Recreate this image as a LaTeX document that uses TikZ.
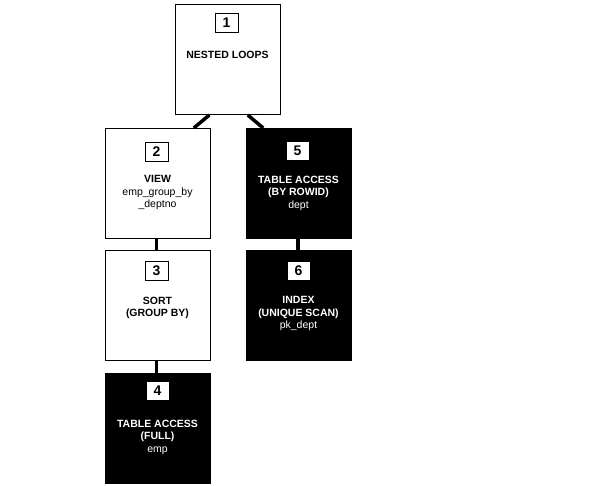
\documentclass[tikz,border=0pt]{standalone}
\usepackage{fontspec}
\setmainfont{Liberation Sans}
\usetikzlibrary{calc}
\begin{document}
\begin{tikzpicture}[x=1pt,y=-1pt,
  opbox/.style={draw=black, line width=1pt, minimum width=105pt, minimum height=110pt, anchor=north west, inner sep=0pt},
  lightop/.style={opbox, fill=white},
  darkop/.style={opbox, fill=black},
  numbox/.style={draw=black, line width=0.8pt, fill=white, minimum width=23pt, minimum height=19pt, inner sep=0pt, font=\bfseries\fontsize{14}{14}\selectfont},
  lbl/.style={align=center, inner sep=0pt, anchor=north, font=\fontsize{10.5}{12.5}\selectfont},
  lightlbl/.style={lbl, text=black},
  darklbl/.style={lbl, text=white},
  link/.style={line width=3.5pt, draw=black}
]
\useasboundingbox (0,0) rectangle (600,486);
% operation boxes
\node[lightop] (b1) at (175,4) {};
\node[lightop] (b2) at (105,128) {};
\node[lightop] (b3) at (105,250) {};
\node[darkop]  (b4) at (105,373) {};
\node[darkop]  (b5) at (246,128) {};
\node[darkop]  (b6) at (246,250) {};
% connectors
\coordinate (c1a) at ($(b1.south west)!0.324!(b1.south east)$);
\coordinate (c1b) at ($(b1.south west)!0.686!(b1.south east)$);
\coordinate (c2) at ($(b2.north west)!0.838!(b2.north east)$);
\coordinate (c5) at ($(b5.north west)!0.162!(b5.north east)$);
\draw[link] (c1a) -- (c2);
\draw[link] (c1b) -- (c5);
\draw[link] ([xshift=-1.5pt]b2.south) -- ([xshift=-1.5pt]b3.north);
\draw[link] ([xshift=-1.5pt]b3.south) -- ([xshift=-1.5pt]b4.north);
\draw[link] ([xshift=-1pt]b5.south) -- ([xshift=-1pt]b6.north);
% number boxes
\node[numbox] (n1) at (226.5,22.5) {1};
\node[numbox] (n2) at (156.5,151.5) {2};
\node[numbox] (n3) at (156.5,271) {3};
\node[numbox] (n4) at (157.5,391) {4};
\node[numbox] (n5) at (297.5,151) {5};
\node[numbox] (n6) at (298.5,271) {6};
% labels
\node[lightlbl] (t1) at (227.5,51) {\textbf{NESTED LOOPS}};
\node[lightlbl] (t2) at (157.5,175.5) {\textbf{VIEW}\\emp\_group\_by\\\_deptno};
\node[lightlbl] (t3) at (157.5,296.5) {\textbf{SORT}\\\textbf{(GROUP BY)}};
\node[darklbl]  (t4) at (157.5,419.5) {\textbf{TABLE ACCESS}\\\textbf{(FULL)}\\emp};
\node[darklbl]  (t5) at (298.5,175.5) {\textbf{TABLE ACCESS}\\\textbf{(BY ROWID)}\\dept};
\node[darklbl]  (t6) at (298.5,296.5) {\textbf{INDEX}\\\textbf{(UNIQUE SCAN)}\\pk\_dept};
\end{tikzpicture}
\end{document}
